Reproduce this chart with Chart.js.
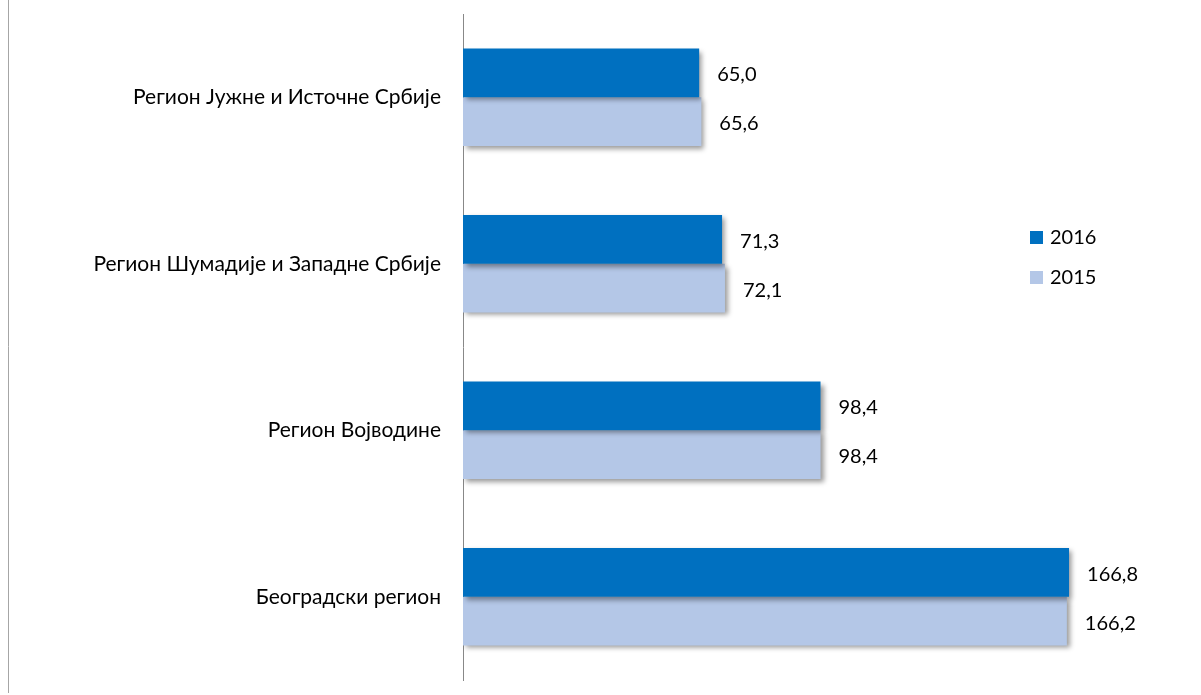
<!DOCTYPE html>
<html>
<head>
<meta charset="utf-8">
<script src="https://cdn.jsdelivr.net/npm/chart.js@4"></script>
<style>
  html, body { margin: 0; padding: 0; background: #fff; }
  #wrap { width: 1201px; height: 695px; }
</style>
</head>
<body>
<div id="wrap"><canvas id="barChartCanvas" width="1201" height="695"></canvas></div>
<script>
const categories = [
  'Регион Јужне и Источне Србије',
  'Регион Шумадије и Западне Србије',
  'Регион Војводине',
  'Београдски регион'
]
const values2016 = [65.0, 71.3, 98.4, 166.8]
const values2015 = [65.6, 72.1, 98.4, 166.2]
const seriesNames = ['2016', '2015']
const seriesColors = ['#0070C0', '#B4C7E7']

const FONT = 'Lato, "Open Sans", sans-serif'

// left frame line + bar shadows + value labels + legend
const decorations = {
  id: 'decorations',
  beforeDraw (chart) {
    const ctx = chart.ctx
    ctx.save()
    ctx.strokeStyle = '#a6a6a6'
    ctx.lineWidth = 1
    ctx.beginPath()
    ctx.moveTo(8.5, 0)
    ctx.lineTo(8.5, 693)
    ctx.stroke()
    ctx.restore()
  },
  beforeDatasetsDraw (chart) {
    const ctx = chart.ctx
    ctx.save()
    ctx.shadowColor = 'rgba(0,0,0,0.4)'
    ctx.shadowBlur = 5
    ctx.shadowOffsetX = 3
    ctx.shadowOffsetY = 3
  },
  afterDatasetsDraw (chart) {
    const ctx = chart.ctx
    ctx.restore()
    ctx.save()
    ctx.font = '20px ' + FONT
    ctx.fillStyle = '#000'
    ctx.textBaseline = 'middle'
    ctx.textAlign = 'left'
    chart.data.datasets.forEach((ds, i) => {
      chart.getDatasetMeta(i).data.forEach((bar, j) => {
        const txt = ds.data[j].toFixed(1).replace('.', ',')
        ctx.fillText(txt, bar.x + 18, bar.y + 2)
      })
    })
    // legend
    const lx = 1030
    const ly = [237, 277]
    seriesNames.forEach((name, i) => {
      ctx.fillStyle = seriesColors[i]
      ctx.fillRect(lx, ly[i] - 6, 13, 13)
      ctx.fillStyle = '#000'
      ctx.fillText(name, lx + 20, ly[i] + 1)
    })
    ctx.restore()
  }
}

new Chart(document.getElementById('barChartCanvas').getContext('2d'), {
  type: 'bar',
  data: {
    labels: categories,
    datasets: [
      { label: seriesNames[0], data: values2016, backgroundColor: seriesColors[0] },
      { label: seriesNames[1], data: values2015, backgroundColor: seriesColors[1] }
    ]
  },
  options: {
    indexAxis: 'y',
    responsive: false,
    animation: false,
    devicePixelRatio: 1,
    layout: { padding: { top: 14, bottom: 15, left: 0, right: 84 } },
    datasets: { bar: { categoryPercentage: 0.585, barPercentage: 1.0 } },
    plugins: { legend: { display: false }, tooltip: { enabled: false } },
    scales: {
      x: { display: false, min: 0, max: 180 },
      y: {
        afterFit (scale) {
          scale.width = 463
          scale.paddingTop = 0
          scale.paddingBottom = 0
        },
        grid: { display: false, drawTicks: false },
        border: { display: true, color: '#888888', width: 1 },
        ticks: { color: '#000', padding: 22, font: { family: FONT, size: 21 } }
      }
    }
  },
  plugins: [decorations]
})
</script>
</body>
</html>
